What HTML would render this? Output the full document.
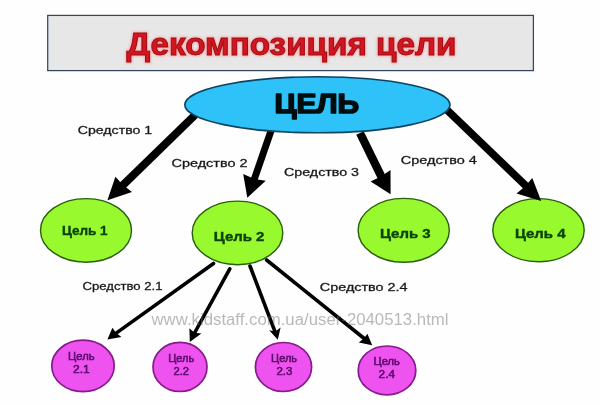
<!DOCTYPE html>
<html><head><meta charset="utf-8">
<style>
html,body{margin:0;padding:0;background:#fefefe;}
body{width:600px;height:405px;overflow:hidden;font-family:"Liberation Sans",sans-serif;}
svg{display:block;}
text{font-family:"Liberation Sans",sans-serif;}
.lbl{font-size:11.3px;fill:#1a1a1a;stroke:#1a1a1a;stroke-width:0.3;}
.g{font-size:12px;font-weight:bold;fill:#0a4209;stroke:#0a4209;stroke-width:0.35;}
.p{font-size:10.5px;fill:#560868;stroke:#560868;stroke-width:0.5;}
</style></head><body>
<svg width="600" height="405" viewBox="0 0 600 405">
<defs>
<filter id="sh" x="-5%" y="-20%" width="110%" height="140%"><feGaussianBlur stdDeviation="1.2"/></filter>
<filter id="soft"><feGaussianBlur stdDeviation="0.45"/></filter>
</defs>
<rect width="600" height="405" fill="#fefefe"/>
<g filter="url(#soft)">
<!-- title box -->
<rect x="47.7" y="15.4" width="485.7" height="55.2" fill="#e7e7e7" stroke="#34475c" stroke-width="1.25"/>
<text x="126.5" y="54.8" font-size="31.5" font-weight="bold" fill="#ff8a8a" stroke="#ff8a8a" stroke-width="3" opacity="0.55" filter="url(#sh)" textLength="330" lengthAdjust="spacingAndGlyphs">Декомпозиция цели</text>
<text x="126.5" y="54.8" font-size="31.5" font-weight="bold" fill="#d01620" stroke="#a50c14" stroke-width="1" textLength="330" lengthAdjust="spacingAndGlyphs">Декомпозиция цели</text>

<!-- small arrows -->
<g stroke="#000" stroke-width="3.6" stroke-linecap="round" fill="#000">
<line x1="213.5" y1="263.5" x2="112.7" y2="335.6"/>
<line x1="229.8" y1="268.8" x2="192.6" y2="336.5"/>
<line x1="250" y1="266" x2="276.2" y2="334.9"/>
<line x1="266.6" y1="260" x2="367.3" y2="341"/>
</g>
<g fill="#000">
<polygon points="107.4,339.4 112.4,327.8 116.2,333 121.4,337"/>
<polygon points="189.8,342 189.4,328.2 194.5,332.8 201.4,333.6"/>
<polygon points="277.8,339.8 269.2,330.2 275.2,331.6 280.6,327.4"/>
<polygon points="372.2,345.2 358.8,342.4 364,338.2 367.4,333.8"/>
</g>

<!-- green -->
<g fill="#98f92e" stroke="#2b5f10" stroke-width="1.4">
<ellipse cx="86" cy="230.4" rx="45.5" ry="31.8"/>
<ellipse cx="237.5" cy="232.9" rx="45.3" ry="31.8"/>
<ellipse cx="403.7" cy="230.3" rx="45.6" ry="31.9"/>
<ellipse cx="538.5" cy="230.2" rx="45.7" ry="31.6"/>
</g>
<g class="g" text-anchor="middle">
<text x="84.8" y="235" textLength="45.6" lengthAdjust="spacingAndGlyphs">Цель 1</text>
<text x="239.1" y="240.7" textLength="50.6" lengthAdjust="spacingAndGlyphs">Цель 2</text>
<text x="405.3" y="237.8" textLength="50.7" lengthAdjust="spacingAndGlyphs">Цель 3</text>
<text x="540.2" y="237.8" textLength="50.5" lengthAdjust="spacingAndGlyphs">Цель 4</text>
</g>

<!-- big arrows -->
<g stroke="#000" stroke-width="8" fill="#000">
<line x1="195" y1="115" x2="116.8" y2="191.1"/>
<line x1="271.3" y1="130" x2="251.9" y2="186.2" stroke-width="6.9"/>
<line x1="360" y1="133" x2="384.8" y2="183.6" stroke-width="8.3"/>
<line x1="446" y1="109" x2="532.3" y2="192" stroke-width="7.7"/>
</g>
<g fill="#000">
<polygon points="107.4,200.2 115.4,176.8 123,185 132,192"/>
<polygon points="247.3,197.7 243.2,173.9 254.5,179 265.7,180.7"/>
<polygon points="390.6,194.3 370.6,181.4 381,176.5 390.5,170"/>
<polygon points="541.2,201 516.5,193.6 525,186.5 532.3,178.1"/>
</g>

<!-- main ellipse -->
<ellipse cx="317.4" cy="104.8" rx="132.6" ry="28" fill="#2dc2f9" stroke="#0c4260" stroke-width="1.6"/>
<text x="316.8" y="113.3" text-anchor="middle" font-size="27.3" font-weight="bold" fill="#05080c" stroke="#05080c" stroke-width="1.5" stroke-linejoin="round" textLength="84.6" lengthAdjust="spacingAndGlyphs">ЦЕЛЬ</text>

<!-- pink -->
<g fill="#ef52ef" stroke="#851c8c" stroke-width="1.7">
<ellipse cx="83" cy="365.9" rx="31.2" ry="25.7"/>
<ellipse cx="180" cy="366.9" rx="27" ry="24.6"/>
<ellipse cx="283.5" cy="367" rx="28.1" ry="24.5"/>
<ellipse cx="387" cy="370.4" rx="28.8" ry="24.4"/>
</g>
<g class="p" text-anchor="middle">
<text x="81.3" y="360.2" textLength="26.5" lengthAdjust="spacingAndGlyphs">Цель</text>
<text x="81.3" y="372.6" textLength="16.6" lengthAdjust="spacingAndGlyphs">2.1</text>
<text x="181.2" y="362" textLength="26" lengthAdjust="spacingAndGlyphs">Цель</text>
<text x="181.2" y="375" textLength="15.6" lengthAdjust="spacingAndGlyphs">2.2</text>
<text x="284.1" y="362" textLength="26" lengthAdjust="spacingAndGlyphs">Цель</text>
<text x="284.4" y="375.1" textLength="16" lengthAdjust="spacingAndGlyphs">2.3</text>
<text x="386.6" y="364.7" textLength="26.3" lengthAdjust="spacingAndGlyphs">Цель</text>
<text x="386.8" y="377.8" textLength="16.4" lengthAdjust="spacingAndGlyphs">2.4</text>
</g>

<!-- labels -->
<g class="lbl">
<text x="77.7" y="134.4" textLength="74.5" lengthAdjust="spacingAndGlyphs">Средство 1</text>
<text x="171.5" y="166.8" textLength="76" lengthAdjust="spacingAndGlyphs">Средство 2</text>
<text x="284" y="176" textLength="75" lengthAdjust="spacingAndGlyphs">Средство 3</text>
<text x="400.8" y="164.2" textLength="76" lengthAdjust="spacingAndGlyphs">Средство 4</text>
<text x="82.5" y="290.3" textLength="80" lengthAdjust="spacingAndGlyphs">Средство 2.1</text>
<text x="319.8" y="290.5" textLength="87.8" lengthAdjust="spacingAndGlyphs">Средство 2.4</text>
</g>

<!-- watermark -->
<text x="151.5" y="324.6" font-size="15.8" fill="#6c6c6c" opacity="0.47" textLength="297" lengthAdjust="spacingAndGlyphs">www.kidstaff.com.ua/user-2040513.html</text>
</g>
</svg>
</body></html>
